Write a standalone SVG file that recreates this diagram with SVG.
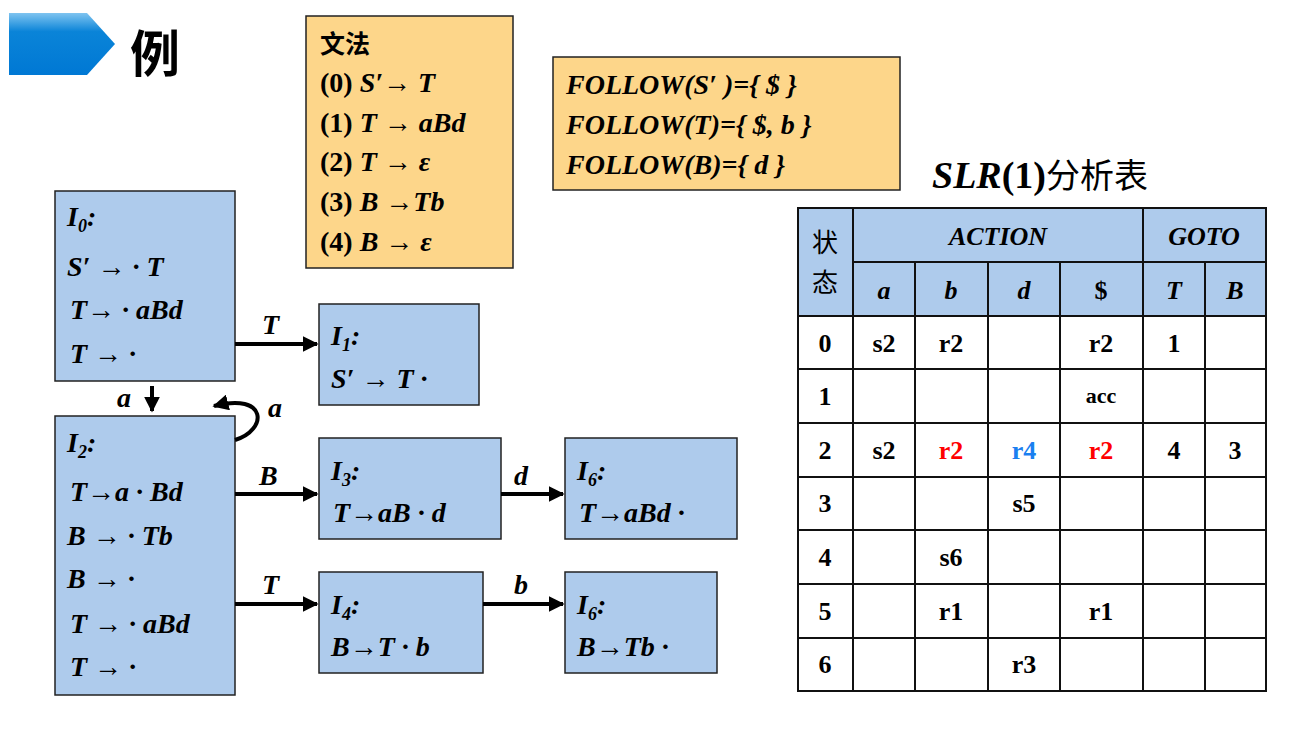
<svg xmlns="http://www.w3.org/2000/svg" width="1293" height="732" viewBox="0 0 1293 732">
<defs>
<marker id="ah" viewBox="0 0 10 10" refX="9" refY="5" markerWidth="4" markerHeight="4" orient="auto" markerUnits="strokeWidth"><path d="M0,0L10,5L0,10z" fill="#000"/></marker>
<linearGradient id="g" x1="0" y1="0" x2="0" y2="1"><stop offset="0" stop-color="#7fc4f0"/><stop offset="0.3" stop-color="#0a84d8"/><stop offset="1" stop-color="#0078d4"/></linearGradient>
</defs>
<style>
.box{fill:#aecbec;stroke:#222;stroke-width:1.5}
.yel{fill:#fdd68a;stroke:#222;stroke-width:1.5}
text{font-family:"Liberation Serif",serif;font-weight:bold;font-size:28px;fill:#000}
.i{font-style:italic}
.c{font-family:"Liberation Serif","Noto Sans CJK SC",serif}
.t{font-size:26px;text-anchor:middle}
.e{stroke:#000;stroke-width:4;fill:none;marker-end:url(#ah)}
.grid line{stroke:#111;stroke-width:2}
</style>
<rect width="1293" height="732" fill="#fff"/>
<path d="M9,13H87L115,44L87,75H9z" fill="url(#g)"/>
<text x="130" y="72" class="c" style="font-family:'Noto Sans CJK SC',sans-serif;font-size:50px">例</text>

<g id="grammar"><rect class="yel" x="306" y="16" width="207" height="252"/>
<text x="320" y="53" class="c" style="font-size:25px">文法</text>
<text x="320" y="92">(0) <tspan class="i">S′→ T</tspan></text>
<text x="320" y="132">(1) <tspan class="i">T → aBd</tspan></text>
<text x="320" y="171">(2) <tspan class="i">T →  ε</tspan></text>
<text x="320" y="211">(3) <tspan class="i">B →Tb</tspan></text>
<text x="320" y="251">(4) <tspan class="i">B →  ε</tspan></text></g>

<g id="follow"><rect class="yel" x="553" y="57" width="347" height="133"/>
<text x="566" y="94" class="i">FOLLOW(S′ )={ $ }</text>
<text x="566" y="134" class="i">FOLLOW(T)={ $, b }</text>
<text x="566" y="174" class="i">FOLLOW(B)={ d }</text></g>

<text x="932" y="188" style="font-size:38px"><tspan class="i">SLR</tspan>(1)<tspan class="c" style="font-family:'Noto Sans CJK SC',sans-serif;font-weight:normal;font-size:34px">分析表</tspan></text>

<g id="I0"><rect class="box" x="55" y="191" width="180" height="190"/>
<text x="67" y="226" class="i">I<tspan font-size="18" dy="6">0</tspan><tspan dy="-6">:</tspan></text>
<text x="67" y="276" class="i">S′ → · T</text>
<text x="70" y="319" class="i">T→ · aBd</text>
<text x="70" y="363" class="i">T → ·</text></g>
<g id="I1"><rect class="box" x="319" y="304" width="160" height="101"/>
<text x="331" y="345" class="i">I<tspan font-size="18" dy="6">1</tspan><tspan dy="-6">:</tspan></text>
<text x="331" y="388" class="i">S′ → T ·</text></g>
<g id="I2"><rect class="box" x="55" y="416" width="180" height="279"/>
<text x="67" y="452" class="i">I<tspan font-size="18" dy="6">2</tspan><tspan dy="-6">:</tspan></text>
<text x="70" y="501" class="i">T→a · Bd</text>
<text x="67" y="545" class="i">B → · Tb</text>
<text x="67" y="588" class="i">B → ·</text>
<text x="70" y="633" class="i">T → · aBd</text>
<text x="70" y="676" class="i">T → ·</text></g>
<g id="I3"><rect class="box" x="319" y="438" width="182" height="101"/>
<text x="331" y="480" class="i">I<tspan font-size="18" dy="6">3</tspan><tspan dy="-6">:</tspan></text>
<text x="333" y="522" class="i">T→aB · d</text></g>
<g id="I5"><rect class="box" x="565" y="438" width="172" height="101"/>
<text x="577" y="480" class="i">I<tspan font-size="18" dy="6">6</tspan><tspan dy="-6">:</tspan></text>
<text x="579" y="522" class="i">T→aBd ·</text></g>
<g id="I4"><rect class="box" x="319" y="572" width="164" height="101"/>
<text x="331" y="614" class="i">I<tspan font-size="18" dy="6">4</tspan><tspan dy="-6">:</tspan></text>
<text x="331" y="656" class="i">B→T · b</text></g>
<g id="I6"><rect class="box" x="565" y="572" width="152" height="101"/>
<text x="577" y="614" class="i">I<tspan font-size="18" dy="6">6</tspan><tspan dy="-6">:</tspan></text>
<text x="577" y="656" class="i">B→Tb ·</text></g>

<g id="edges">
<line class="e" x1="235" y1="344" x2="317" y2="344"/>
<line class="e" x1="152" y1="386" x2="152" y2="411"/>
<path class="e" d="M235,440C268,430 268,392 214,406"/>
<line class="e" x1="235" y1="494" x2="317" y2="494"/>
<line class="e" x1="501" y1="494" x2="563" y2="494"/>
<line class="e" x1="235" y1="604" x2="317" y2="604"/>
<line class="e" x1="483" y1="604" x2="563" y2="604"/>
<text x="262" y="334" class="i">T</text>
<text x="117" y="407" class="i">a</text>
<text x="268" y="417" class="i">a</text>
<text x="259" y="485" class="i">B</text>
<text x="514" y="485" class="i">d</text>
<text x="262" y="594" class="i">T</text>
<text x="514" y="594" class="i">b</text>
</g>

<g id="table">
<rect x="798" y="208" width="468" height="108" fill="#aecbec"/>
<g class="grid">
<rect x="798" y="208" width="468" height="483" fill="none" stroke="#111" stroke-width="2"/>
<line x1="853" y1="208" x2="853" y2="691"/><line x1="1143" y1="208" x2="1143" y2="691"/>
<line x1="915" y1="262" x2="915" y2="691"/><line x1="988" y1="262" x2="988" y2="691"/><line x1="1060" y1="262" x2="1060" y2="691"/><line x1="1205" y1="262" x2="1205" y2="691"/>
<line x1="853" y1="262" x2="1266" y2="262"/>
<line x1="798" y1="316" x2="1266" y2="316"/><line x1="798" y1="369" x2="1266" y2="369"/><line x1="798" y1="423" x2="1266" y2="423"/><line x1="798" y1="477" x2="1266" y2="477"/><line x1="798" y1="530" x2="1266" y2="530"/><line x1="798" y1="584" x2="1266" y2="584"/><line x1="798" y1="638" x2="1266" y2="638"/>
</g>
<text x="825" y="252" class="t c" style="font-family:'Noto Sans CJK SC',sans-serif;font-weight:normal">状</text>
<text x="825" y="292" class="t c" style="font-family:'Noto Sans CJK SC',sans-serif;font-weight:normal">态</text>
<text x="998" y="245" class="t i">ACTION</text>
<text x="1204" y="245" class="t i">GOTO</text>
<text x="884" y="299" class="t i">a</text><text x="951" y="299" class="t i">b</text><text x="1024" y="299" class="t i">d</text><text x="1101" y="299" class="t">$</text><text x="1174" y="299" class="t i">T</text><text x="1235" y="299" class="t i">B</text>
<text x="825" y="352" class="t">0</text><text x="884" y="352" class="t">s2</text><text x="951" y="352" class="t">r2</text><text x="1101" y="352" class="t">r2</text><text x="1174" y="352" class="t">1</text>
<text x="825" y="405" class="t">1</text><text x="1101" y="403" class="t" style="font-size:22px">acc</text>
<text x="825" y="459" class="t">2</text><text x="884" y="459" class="t">s2</text><text x="951" y="459" class="t" fill="#f00" style="fill:#f00">r2</text><text x="1024" y="459" class="t" style="fill:#1a7ff0">r4</text><text x="1101" y="459" class="t" style="fill:#f00">r2</text><text x="1174" y="459" class="t">4</text><text x="1235" y="459" class="t">3</text>
<text x="825" y="512" class="t">3</text><text x="1024" y="512" class="t">s5</text>
<text x="825" y="566" class="t">4</text><text x="951" y="566" class="t">s6</text>
<text x="825" y="620" class="t">5</text><text x="951" y="620" class="t">r1</text><text x="1101" y="620" class="t">r1</text>
<text x="825" y="673" class="t">6</text><text x="1024" y="673" class="t">r3</text>
</g>
</svg>
